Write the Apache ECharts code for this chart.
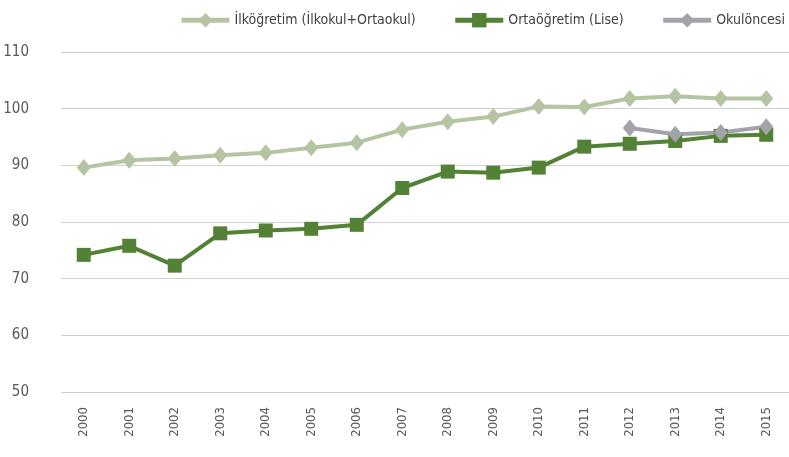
<!DOCTYPE html>
<html>
<head>
<meta charset="utf-8">
<script src="https://cdn.jsdelivr.net/npm/echarts@6/dist/echarts.min.js"></script>
<style>
  html, body { margin: 0; padding: 0; background: #fff; }
  #chart { width: 789px; height: 457px; }
</style>
</head>
<body>
<div id="chart"></div>
<script>
var years = ['2000', '2001', '2002', '2003', '2004', '2005', '2006', '2007',
             '2008', '2009', '2010', '2011', '2012', '2013', '2014', '2015'];
var ilkogretim = [89.6, 90.9, 91.2, 91.8, 92.2, 93.1, 94.0, 96.3,
                  97.7, 98.6, 100.4, 100.3, 101.8, 102.2, 101.8, 101.8];
var ortaogretim = [74.2, 75.8, 72.3, 78.0, 78.5, 78.8, 79.5, 86.0,
                   88.9, 88.7, 89.6, 93.3, 93.8, 94.3, 95.2, 95.4];
var okuloncesi = [null, null, null, null, null, null, null, null,
                  null, null, null, null, 96.6, 95.5, 95.8, 96.8];
var seriesNames = ['İlköğretim (İlkokul+Ortaokul)', 'Ortaöğretim (Lise)', 'Okulöncesi'];

var font = "'DejaVu Sans Condensed', 'Noto Sans', sans-serif";

var myChart = echarts.init(document.getElementById('chart'));

function lineSeries(name, data, color, symbol, size) {
    return {
        name: name,
        type: 'line',
        data: data,
        symbol: symbol,
        symbolSize: size,
        showAllSymbol: true,
        connectNulls: false,
        itemStyle: { color: color },
        lineStyle: { color: color, width: 4 },
        emphasis: { disabled: true },
        animation: false
    };
}

var option = {
    animation: false,
    legend: {
        data: seriesNames,
        left: 174,
        top: 8,
        width: 1000,
        itemWidth: 48,
        itemHeight: 18,
        itemGap: 37,
        lineStyle: { width: 5 },
        textStyle: { fontFamily: font, fontSize: 14, color: '#404040' }
    },
    grid: {
        left: 61,
        top: 52,
        width: 737,
        bottom: 65,
        containLabel: false
    },
    xAxis: {
        type: 'category',
        data: years,
        boundaryGap: true,
        axisLine: { show: false },
        axisTick: { show: false },
        axisLabel: {
            rotate: 90,
            margin: 15,
            fontFamily: font,
            fontSize: 13,
            color: '#595959'
        }
    },
    yAxis: {
        type: 'value',
        min: 50,
        max: 110,
        interval: 10,
        axisLine: { show: false },
        axisTick: { show: false },
        axisLabel: {
            margin: 32,
            fontFamily: font,
            fontSize: 15,
            color: '#595959'
        },
        splitLine: { lineStyle: { color: '#d0d0d0', width: 1 } }
    },
    series: [
        lineSeries(seriesNames[0], ilkogretim, '#b5c4a3', 'diamond', [14, 17]),
        lineSeries(seriesNames[1], ortaogretim, '#538135', 'rect', 14),
        lineSeries(seriesNames[2], okuloncesi, '#a3a3ab', 'diamond', [14, 17])
    ]
};

myChart.setOption(option);
</script>
</body>
</html>
